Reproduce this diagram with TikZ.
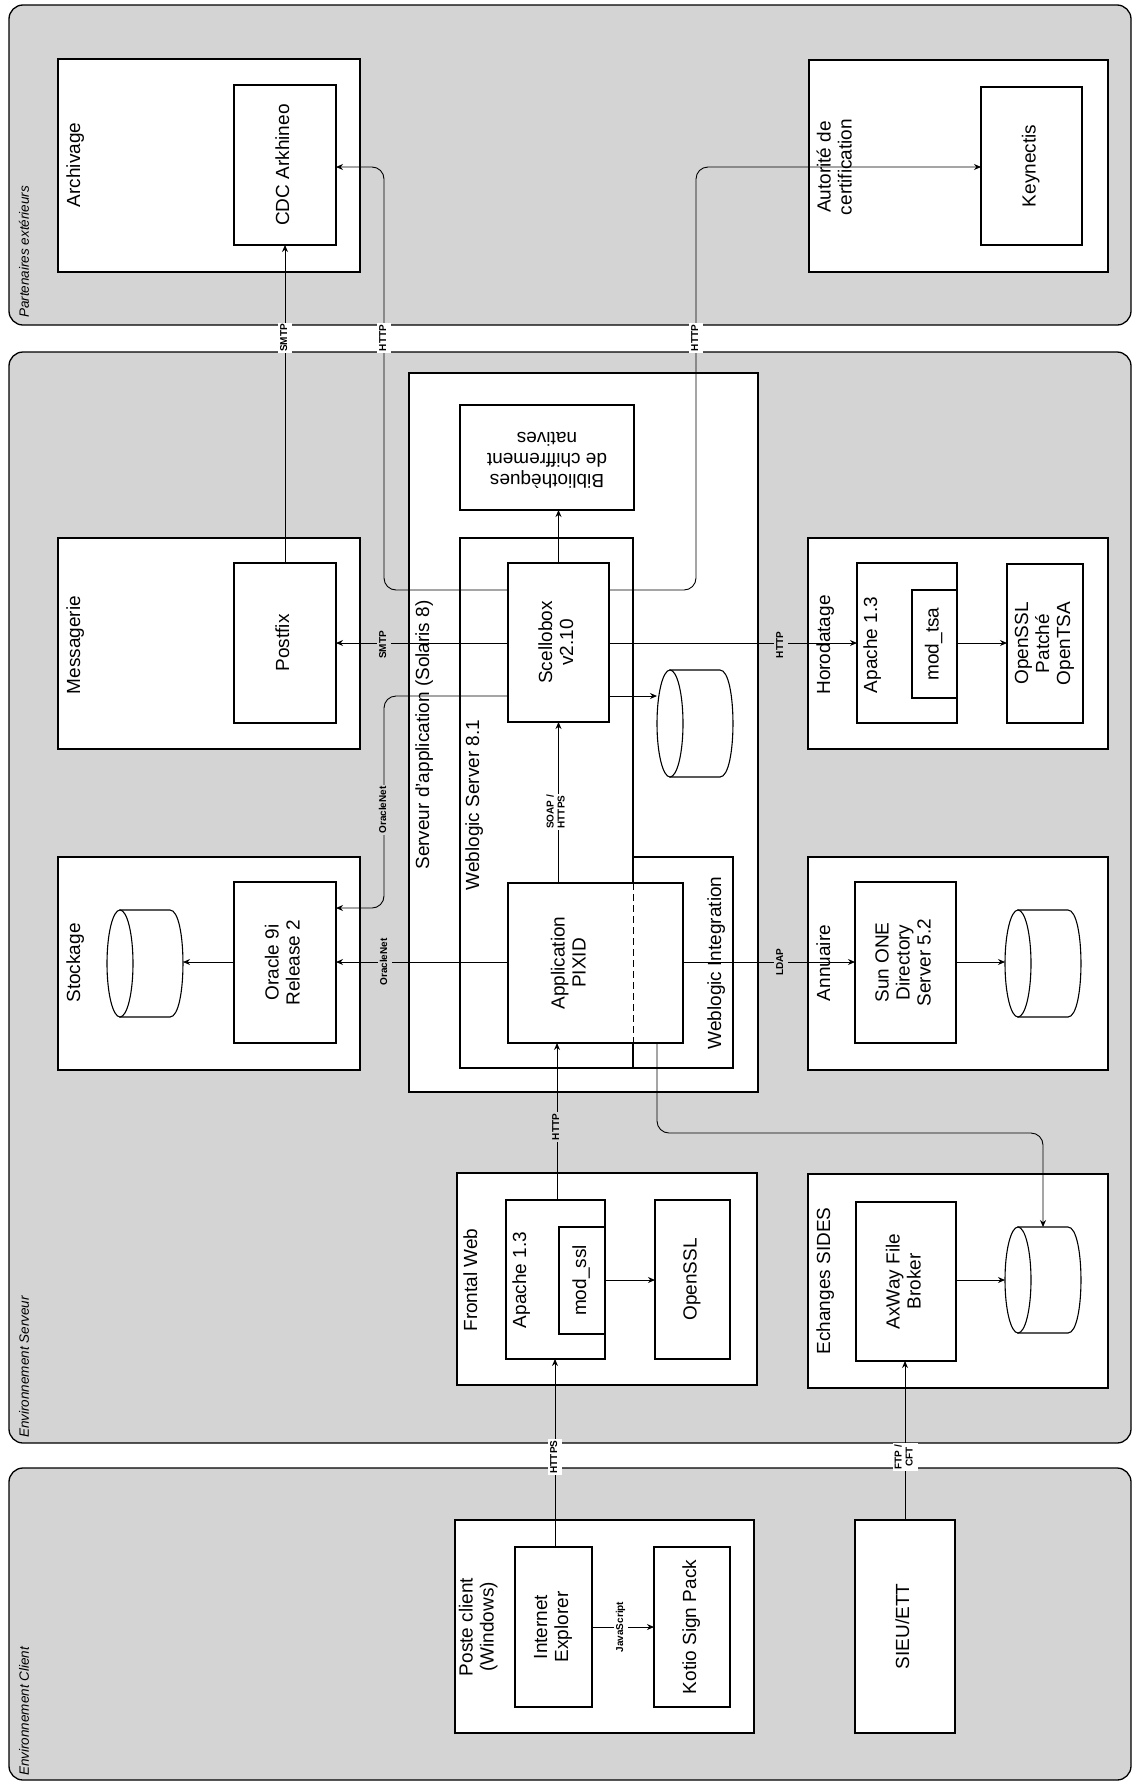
\documentclass[tikz,border=0pt]{standalone}
\usepackage{fontspec}
\setmainfont{Liberation Sans}
\usepackage{graphicx}
\usetikzlibrary{arrows.meta}
\definecolor{grp}{gray}{0.83}

\newcommand{\vt}[1]{\rotatebox{90}{\begin{tabular}{@{}c@{}}#1\end{tabular}}}
\newcommand{\ut}[1]{\rotatebox{180}{\begin{tabular}{@{}c@{}}#1\end{tabular}}}

\newcommand{\bx}[7][box]{%
  \pgfmathsetmacro{\myW}{#5-#3}%
  \pgfmathsetmacro{\myH}{#6-#4}%
  \pgfmathsetmacro{\myX}{(#3+#5)/2}%
  \pgfmathsetmacro{\myY}{(#4+#6)/2}%
  \node[#1, minimum width=\myW pt, minimum height=\myH pt] (#2) at (\myX,\myY) {#7};}

\newcommand{\cyl}[5]{%
  \pgfmathsetmacro{\myW}{#4-#2}%
  \pgfmathsetmacro{\myH}{#5-#3}%
  \pgfmathsetmacro{\myX}{(#2+#4)/2}%
  \pgfmathsetmacro{\myY}{(#3+#5)/2}%
  \pgfmathsetmacro{\myR}{(#5-#3)/2}%
  \node[inner sep=0pt, outer sep=0pt, minimum width=\myW pt, minimum height=\myH pt] (#1) at (\myX,\myY) {};
  \draw[cylline] ([xshift=13pt]#1.north west) -- ([xshift=-13pt]#1.north east)
     .. controls ([xshift=4.3pt]#1.north east) and ([xshift=4.3pt]#1.south east) .. ([xshift=-13pt]#1.south east)
     -- ([xshift=13pt]#1.south west) -- cycle;
  \draw[cylline] ([xshift=13pt]#1.west) ellipse [x radius=13pt, y radius=\myR pt];
}

\newcommand{\lb}[5][grp]{\node[lbl, fill=#1] (#2) at (#3,#4) {\vt{#5}};}

\tikzset{
  box/.style={draw, line width=1.1pt, fill=white, inner sep=0pt, outer sep=0pt,
    font=\fontsize{19}{21}\selectfont},
  grpbox/.style={draw, line width=1.3pt, fill=grp, rounded corners=14pt, inner sep=0pt, outer sep=0pt},
  ttl/.style={inner sep=0pt, font=\fontsize{19}{21}\selectfont},
  glbl/.style={inner sep=0pt, anchor=south, font=\itshape\fontsize{13.5}{15}\selectfont},
  cylline/.style={line width=1.1pt, fill=white},
  conn/.style={line width=0.9pt, -{Stealth[length=7pt,width=6pt]}, rounded corners=12pt},
  lbl/.style={inner sep=1.5pt, font=\bfseries\fontsize{10}{11}\selectfont},
}

\begin{document}
\begin{tikzpicture}[x=1pt, y=-1pt]
\useasboundingbox (0,0) rectangle (1134,1783);
\fill[white] (0,0) rectangle (1134,1783);

% groups
\bx[grpbox]{gP}{9}{5}{1131}{325}{}
\bx[grpbox]{gS}{9}{352}{1131}{1443}{}
\bx[grpbox]{gC}{9}{1468}{1131}{1780}{}
\node[glbl] (lP) at (24,318) {\rotatebox{90}{Partenaires extérieurs}};
\node[glbl] (lS) at (24,1438) {\rotatebox{90}{Environnement Serveur}};
\node[glbl] (lC) at (24,1776) {\rotatebox{90}{Environnement Client}};

% partenaires
\bx{arch}{58}{59}{360}{272}{}
\bx{cdc}{234}{85}{336}{245}{\vt{CDC Arkhineo}}
\bx{autor}{809}{60}{1108}{272}{}
\bx{keyn}{981}{87}{1082}{245}{\vt{Keynectis}}

% serveur - left column
\bx{mess}{58}{538}{360}{749}{}
\bx{postfix}{234}{563}{336}{723}{\vt{Postfix}}
\bx{stock}{58}{857}{360}{1070}{}
\bx{oracle}{234}{882}{336}{1043}{\vt{Oracle 9i\\Release 2}}
\cyl{dbStock}{107}{910}{183}{1017}

% serveur d'application
\bx{sapp}{409}{373}{758}{1092}{}
\bx{biblio}{460}{405}{634}{510}{\ut{Bibliothèques\\de chiffrement\\natives}}
\bx{wls}{460}{538}{633}{1068}{}
\bx{wli}{633}{857}{733}{1068}{}
\bx{scel}{508}{563}{609}{722}{\vt{Scellobox\\v2.10}}
\cyl{dbS}{657}{670}{733}{777}
\bx{pixid}{508}{883}{683}{1043}{}
\draw[line width=1pt, dash pattern=on 7pt off 4pt] (wls.north east |- pixid.north) -- (wls.north east |- pixid.south);
\node[ttl] (tPix) at (571,963) {\vt{Application\\PIXID}};

% right column
\bx{horo}{808}{538}{1108}{749}{}
\bx{apH}{857}{563}{957}{723}{}
\bx{modtsa}{912}{590}{957}{698}{\vt{mod\_tsa}}
\bx{ossl2}{1007}{564}{1083}{723}{\vt{OpenSSL\\Patché\\OpenTSA}}
\bx{annu}{808}{857}{1108}{1070}{}
\bx{sunone}{855}{882}{956}{1043}{\vt{Sun ONE\\Directory\\Server 5.2}}
\cyl{dbAnnu}{1005}{910}{1081}{1017}

% bottom row of serveur
\bx{front}{457}{1173}{757}{1385}{}
\bx{apF}{506}{1200}{605}{1359}{}
\bx{modssl}{559}{1227}{605}{1334}{\vt{mod\_ssl}}
\bx{ossl}{655}{1200}{730}{1359}{\vt{OpenSSL}}
\bx{sides}{808}{1174}{1108}{1388}{}
\bx{axway}{856}{1202}{956}{1361}{\vt{AxWay File\\Broker}}
\cyl{dbSides}{1005}{1227}{1081}{1333}

% client
\bx{poste}{455}{1520}{754}{1733}{}
\bx{ie}{515}{1547}{592}{1707}{\vt{Internet\\Explorer}}
\bx{kotio}{654}{1547}{730}{1707}{\vt{Kotio Sign Pack}}
\bx{sieu}{855}{1520}{955}{1733}{\vt{SIEU/ETT}}

% titles
\node[ttl] (tArch) at (76,165) {\vt{Archivage}};
\node[ttl] (tAut) at (837,167) {\vt{Autorité de\\certification}};
\node[ttl] (tMess) at (76,645) {\vt{Messagerie}};
\node[ttl] (tStock) at (76,963) {\vt{Stockage}};
\node[ttl] (tSapp) at (425,735) {\vt{Serveur d'application (Solaris 8)}};
\node[ttl] (tWls) at (475,805) {\vt{Weblogic Server 8.1}};
\node[ttl] (tWli) at (717,963) {\vt{Weblogic Integration}};
\node[ttl] (tHoro) at (826,645) {\vt{Horodatage}};
\node[ttl] (tApH) at (873,645) {\vt{Apache 1.3}};
\node[ttl] (tAnnu) at (826,963) {\vt{Annuaire}};
\node[ttl] (tFront) at (473,1280) {\vt{Frontal Web}};
\node[ttl] (tApF) at (522,1280) {\vt{Apache 1.3}};
\node[ttl] (tSides) at (826,1281) {\vt{Echanges SIDES}};
\node[ttl] (tPoste) at (479,1627) {\vt{Poste client\\(Windows)}};

% connectors
\draw[conn] (postfix.north) -- (cdc.south);
\draw[conn] (scel.west |- 0,590) -- (384,590) -- (384,167) -- (cdc.east |- 0,167);
\draw[conn] (scel.west |- 0,643) -- (postfix.east |- 0,643);
\draw[conn] (scel.west |- 0,696) -- (384,696) -- (384,908) -- (oracle.east |- 0,908);
\draw[conn] (scel.east |- 0,590) -- (696,590) -- (696,167) -- (keyn.west |- 0,167);
\draw[conn] (scel.east |- 0,643) -- (apH.west |- 0,643);
\draw[conn] (scel.east |- 0,696) -- (dbS.west |- 0,696);
\draw[conn] (scel.north) -- (scel.north |- biblio.south);
\draw[conn] (scel.south |- pixid.north) -- (scel.south);
\draw[conn] (pixid.west |- 0,962) -- (oracle.east |- 0,962);
\draw[conn] (pixid.east |- 0,962) -- (sunone.west |- 0,962);
\draw[conn] (pixid.south -| dbS.west) -- (657,1133) -- (1043,1133) -- (dbSides.north);
\draw[conn] (apF.north -| 557,0) -- (pixid.south -| 557,0);
\draw[conn] (modssl.east |- 0,1280) -- (ossl.west |- 0,1280);
\draw[conn] (modtsa.east |- 0,643) -- (ossl2.west |- 0,643);
\draw[conn] (oracle.west |- 0,962) -- (dbStock.east |- 0,962);
\draw[conn] (sunone.east |- 0,962) -- (dbAnnu.west |- 0,962);
\draw[conn] (axway.east |- 0,1280) -- (dbSides.west |- 0,1280);
\draw[conn] (ie.north -| 555,0) -- (apF.south -| 555,0);
\draw[conn] (ie.east |- 0,1627) -- (kotio.west |- 0,1627);
\draw[conn] (sieu.north -| 905,0) -- (axway.south -| 905,0);

% connector labels
\lb[white]{c1}{285}{338}{SMTP}
\lb[white]{c2}{384}{338}{HTTP}
\lb{c3}{384}{645}{SMTP}
\lb{c4}{384}{810}{OracleNet}
\lb[white]{c5}{696}{338}{HTTP}
\lb{c6}{781}{645}{HTTP}
\lb[white]{c7}{557}{812}{SOAP /\\HTTPS}
\lb{c8}{385}{962}{OracleNet}
\lb{c9}{781}{962}{LDAP}
\lb{c10}{557}{1127}{HTTP}
\lb[white]{c11}{555}{1457}{HTTPS}
\lb[white]{c12}{621}{1627}{JavaScript}
\lb[white]{c13}{905}{1457}{FTP /\\CFT}
\end{tikzpicture}
\end{document}
